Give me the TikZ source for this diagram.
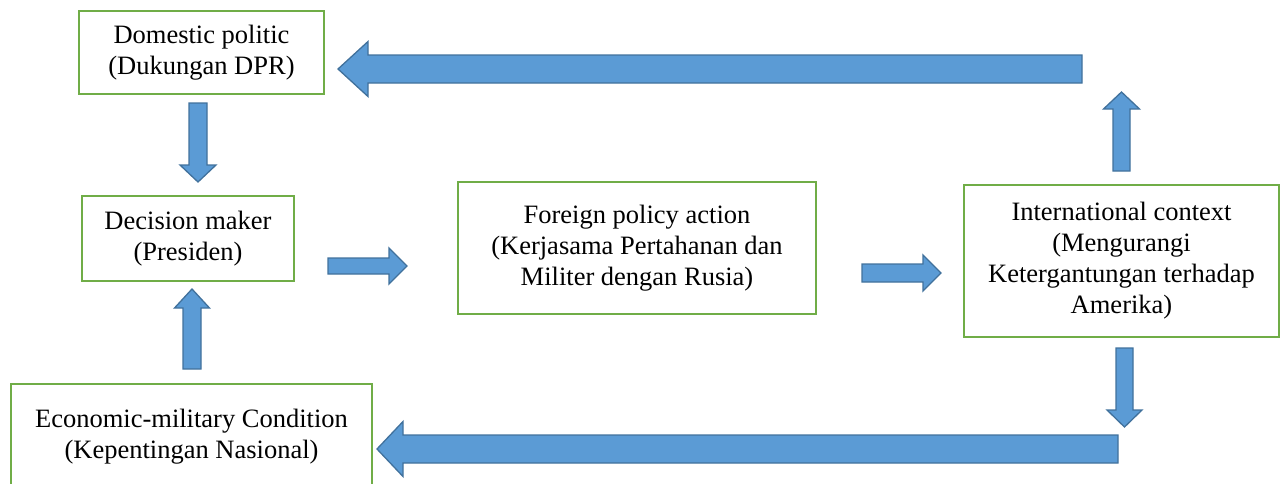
\documentclass[tikz,border=0pt]{standalone}
\usepackage{fontspec}
\setmainfont{Liberation Serif}
\usetikzlibrary{calc}

\definecolor{boxgreen}{HTML}{70AD47}
\definecolor{arrowfill}{HTML}{5B9BD5}
\definecolor{arrowline}{HTML}{41719C}

\tikzset{
    box/.style={draw=boxgreen, line width=1.6pt, align=center, inner sep=0pt,
        font=\fontsize{26.5}{31}\selectfont},
    blockarrow/.style={fill=arrowfill, draw=arrowline, line width=1.3pt, line join=miter}
}

% block arrow: tail, tip, half shaft, half head, head length
\newcommand{\blockarrow}[5]{%
    \coordinate (ah) at ($(#2)!#5!(#1)$);
    \draw[blockarrow] ($(#1)!#3!90:(#2)$) -- ($(ah)!#3!90:(#2)$) -- ($(ah)!#4!90:(#2)$)
        -- (#2) -- ($(ah)!#4!-90:(#2)$) -- ($(ah)!#3!-90:(#2)$) -- ($(#1)!#3!-90:(#2)$) -- cycle;
}

\begin{document}
\begin{tikzpicture}[x=1pt, y=-1pt]
    \useasboundingbox (0, 0) rectangle (1285, 483);

    % Boxes
    \node[box, minimum width=245pt, minimum height=83pt] (dom) at (201.5, 52.5)
        {Domestic politic\\(Dukungan DPR)};
    \node[box, minimum width=212pt, minimum height=85pt] (dec) at (188, 238.5)
        {Decision maker\\(Presiden)};
    \node[box, minimum width=358pt, minimum height=132pt] (fpa) at (637, 248)
        {Foreign policy action\\(Kerjasama Pertahanan dan\\Militer dengan Rusia)};
    \node[box, minimum width=315pt, minimum height=152pt] (ctx) at (1121.5, 261)
        {International context\\(Mengurangi\\Ketergantungan terhadap\\Amerika)};
    \node[box, minimum width=361pt, minimum height=106pt] (eco) at (191.5, 437)
        {Economic-military Condition\\(Kepentingan Nasional)};

    % Arrow ends
    \coordinate (top-tail) at (1082, 69);
    \coordinate (top-tip) at (338, 69);
    \coordinate (dom-tail) at (198, 103);
    \coordinate (dom-tip) at (198, 182);
    \coordinate (eco-tail) at (192, 369);
    \coordinate (eco-tip) at (192, 289);
    \coordinate (dec-tail) at (328, 266);
    \coordinate (dec-tip) at (407, 266);
    \coordinate (fpa-tail) at (862, 273);
    \coordinate (fpa-tip) at (941, 273);
    \coordinate (up-tail) at (1121.5, 171);
    \coordinate (up-tip) at (1121.5, 92);
    \coordinate (down-tail) at (1124.5, 348);
    \coordinate (down-tip) at (1124.5, 427);
    \coordinate (bot-tail) at (1118, 449);
    \coordinate (bot-tip) at (377, 449);

    % Block arrows
    \blockarrow{top-tail}{top-tip}{14pt}{27.5pt}{30pt}
    \blockarrow{dom-tail}{dom-tip}{9pt}{18pt}{17pt}
    \blockarrow{eco-tail}{eco-tip}{9pt}{17.5pt}{19pt}
    \blockarrow{dec-tail}{dec-tip}{8pt}{18pt}{18pt}
    \blockarrow{fpa-tail}{fpa-tip}{9pt}{18pt}{18pt}
    \blockarrow{up-tail}{up-tip}{8.5pt}{18pt}{17pt}
    \blockarrow{down-tail}{down-tip}{8.5pt}{17.5pt}{17pt}
    \blockarrow{bot-tail}{bot-tip}{14pt}{27.5pt}{26pt}
\end{tikzpicture}
\end{document}
